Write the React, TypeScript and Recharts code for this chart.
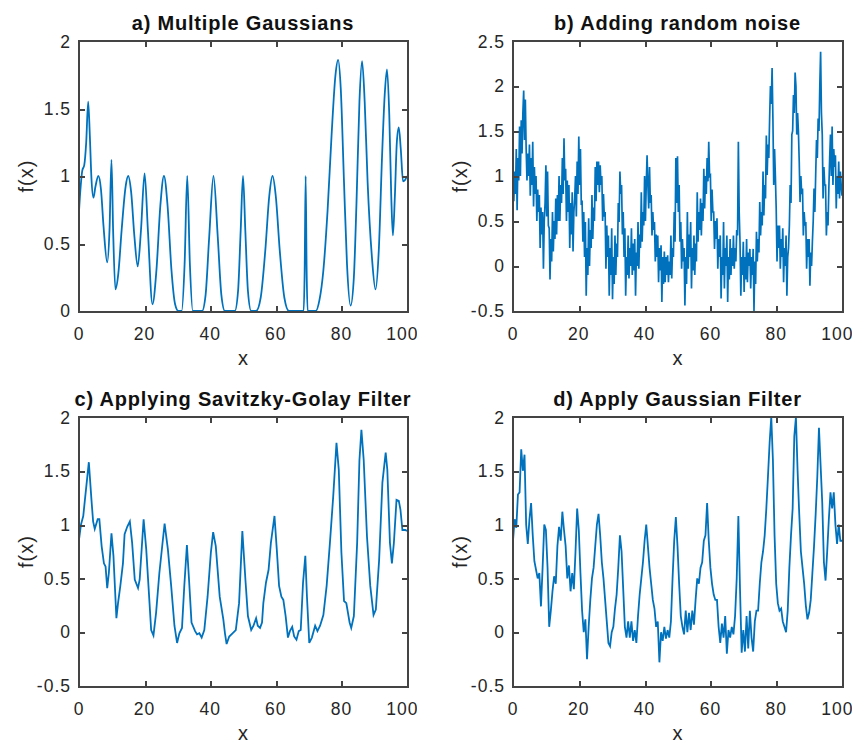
import React from "react";
import { LineChart, Line, XAxis, YAxis } from "recharts";

const X_TICKS = [0, 20, 40, 60, 80, 100];
const A_Y_TICKS = [0, 0.5, 1, 1.5, 2];
const B_Y_TICKS = [-0.5, 0, 0.5, 1, 1.5, 2, 2.5];
const CD_Y_TICKS = [-0.5, 0, 0.5, 1, 1.5, 2];

// a) sum of gaussians, read as [x, f(x)] at peaks, troughs and flanks
const gaussPoints: [number, number][] = [
  [0, 0.74], [0.5, 0.92], [1, 1.04], [1.6, 1.08], [2.2, 1.25], [2.8, 1.55], [3.3, 1.3],
  [3.8, 0.98], [4.4, 0.84], [5.0, 0.92], [5.9, 1.0], [6.7, 0.9], [7.5, 0.62], [8.6, 0.36],
  [9.3, 0.6], [9.9, 1.12], [10.4, 0.6], [11.1, 0.16], [12.0, 0.28], [13.0, 0.6], [14.2, 0.92],
  [15.0, 1.0], [15.9, 0.88], [16.9, 0.55], [17.9, 0.33], [18.9, 0.6], [20.0, 1.02], [21.0, 0.6],
  [22.4, 0.05], [23.6, 0.3], [24.8, 0.78], [25.9, 1.0], [27.0, 0.78], [28.2, 0.3], [29.3, 0.05],
  [30.3, 0], [31.3, 0], [32.2, 0.35], [33.0, 1.0], [33.8, 0.35], [34.7, 0], [37.5, 0],
  [38.6, 0.12], [39.7, 0.55], [41.0, 1.0], [42.3, 0.55], [43.4, 0.12], [44.5, 0], [47.5, 0],
  [48.5, 0.15], [49.3, 0.6], [50.0, 1.0], [50.7, 0.6], [51.5, 0.15], [52.5, 0], [54.0, 0],
  [55.4, 0.1], [56.8, 0.45], [58.0, 0.85], [59.0, 1.0], [60.0, 0.85], [61.2, 0.45], [62.6, 0.1],
  [64.0, 0], [68.5, 0], [68.8, 0.3], [69.1, 1.0], [69.4, 0.3], [69.7, 0], [72.2, 0],
  [73.3, 0.08], [74.5, 0.3], [75.8, 0.75], [77.0, 1.3], [78.2, 1.75], [79.0, 1.86], [79.8, 1.65],
  [80.8, 0.95], [81.7, 0.35], [82.8, 0.04], [83.8, 0.25], [84.6, 0.8], [85.5, 1.55], [86.3, 1.85],
  [87.1, 1.55], [88.0, 0.95], [89.3, 0.4], [90.4, 0.16], [91.4, 0.45], [92.4, 1.15], [93.2, 1.6],
  [93.9, 1.79], [94.6, 1.45], [95.2, 0.85], [95.7, 0.56], [96.3, 0.85], [96.9, 1.25], [97.5, 1.36],
  [98.1, 1.2], [98.8, 0.96], [99.4, 0.97], [100, 1.0],
];

// b) noisy signal, one value every 0.25 in x
const noisyStep = 0.25;
const noisyValues = [
  0.9, 0.72, 1.05, 0.8, 1.3, 0.62, 1.2, 0.95, 1.55, 1.0, 1.62, 1.25, 1.7, 1.95, 1.4, 1.85,
  1.3, 0.95, 1.25, 1.0, 1.35, 0.78, 1.2, 0.9, 1.38, 0.66, 1.1, 0.8, 1.0, 0.5, 0.85, 0.6,
  0.79, 0.2, 0.65, 0.35, 0.6, -0.03, 0.5, 0.7, 1.12, 0.55, 1.05, 0.45, 0.42, -0.15, 0.3, 0.05,
  0.6, 0.16, 0.5, 0.3, 0.75, 0.35, 0.79, 0.5, 1.0, 0.5, 0.9, 0.7, 1.2, 0.8, 1.42, 0.95,
  1.08, 0.5, 0.95, 0.6, 0.9, 0.2, 0.7, 0.35, 0.82, 0.16, 0.6, 0.75, 1.0, 0.55, 1.16, 0.8,
  1.44, 0.9, 1.3, 0.7, 0.71, 0.27, 0.6, 0.1, 0.49, -0.33, 0.2, -0.1, 0.53, 0.0, 0.4, 0.2,
  0.79, 0.3, 0.65, 0.5, 1.1, 0.72, 1.16, 0.9, 1.16, 0.82, 1.12, 0.9, 1.0, 0.5, 0.8, 0.55,
  0.6, -0.03, 0.45, 0.1, 0.34, -0.33, 0.2, -0.1, 0.42, -0.37, 0.1, -0.2, 0.34, -0.1, 0.25, 0.1,
  0.7, 0.49, 1.05, 0.8, 0.9, 0.35, 0.6, 0.1, 0.42, -0.33, 0.1, -0.1, 0.34, -0.14, 0.2, 0.0,
  0.42, -0.1, 0.25, -0.05, 0.3, -0.33, 0.15, 0.0, 0.49, -0.03, 0.35, 0.2, 0.82, 0.27, 0.6, 0.45,
  1.0, 0.5, 0.9, 1.23, 0.9, 0.64, 1.1, 0.7, 0.79, 0.34, 0.6, 0.4, 0.49, 0.05, 0.35, 0.1,
  0.34, -0.18, 0.2, -0.05, 0.23, -0.4, 0.1, -0.2, 0.16, -0.18, 0.1, -0.1, 0.12, -0.18, 0.05, -0.1,
  0.34, -0.14, 0.2, 0.1, 0.6, 0.27, 1.2, 0.7, 1.22, 0.6, 0.9, 0.27, 0.49, -0.03, 0.3, 0.05,
  0.2, -0.44, 0.1, -0.2, 0.6, -0.03, 0.35, 0.1, 0.49, -0.25, 0.2, -0.05, 0.34, -0.1, 0.25, 0.05,
  0.82, 0.27, 0.6, 0.4, 0.75, 0.34, 0.7, 0.5, 1.08, 0.64, 1.0, 0.8, 1.2, 0.94, 1.38, 1.0,
  1.01, 0.5, 0.85, 0.6, 0.6, 0.19, 0.5, 0.3, 0.53, -0.03, 0.3, 0.1, 0.34, -0.36, 0.1, -0.1,
  0.49, -0.25, 0.2, 0.0, 0.34, -0.4, 0.1, -0.15, 0.3, -0.1, 0.2, 0.0, 0.34, -0.03, 0.2, 0.05,
  0.4, 0.34, 1.38, 0.6, 0.27, -0.33, 0.1, -0.1, 0.27, -0.29, 0.1, -0.15, 0.3, -0.18, 0.15, 0.0,
  0.19, -0.25, 0.1, -0.1, 0.19, -0.5, 0.05, -0.2, 0.38, 0.05, 0.3, 0.15, 0.71, 0.34, 0.6, 0.45,
  1.05, 0.56, 0.9, 0.75, 1.45, 1.01, 1.35, 1.2, 1.64, 2.0, 1.8, 2.2, 1.64, 0.9, 1.3, 1.0,
  0.64, 0.05, 0.45, 0.2, 0.45, -0.03, 0.3, 0.1, 0.42, -0.18, 0.2, 0.0, 0.34, -0.33, 0.1, 0.2,
  0.45, 0.9, 0.7, 1.46, 1.5, 1.9, 1.7, 2.15, 2.0, 1.46, 1.7, 1.5, 1.16, 0.71, 1.0, 0.8,
  0.86, 0.34, 0.6, 0.45, 0.49, -0.03, 0.3, 0.1, 0.3, -0.22, 0.15, 0.0, 0.27, 0.5, 0.86, 0.6,
  1.01, 1.4, 1.2, 1.64, 1.5, 2.0, 2.38, 1.7, 1.46, 0.75, 1.1, 0.9, 0.9, 0.34, 0.6, 0.45,
  0.86, 1.2, 1.46, 1.0, 1.55, 0.9, 1.3, 1.1, 1.23, 0.64, 1.0, 0.8, 1.16, 0.75, 1.05, 0.9,
  0.78,
];

// c) Savitzky-Golay output, read as [x, f(x)]
const sgPoints: [number, number][] = [
  [0, 0.86], [0.6, 1.0], [1.3, 1.08], [1.8, 1.23], [3.0, 1.58], [3.8, 1.23], [4.3, 1.03],
  [4.8, 0.96], [5.7, 1.05], [6.2, 1.05], [6.9, 0.8], [7.6, 0.64], [8.1, 0.61], [8.6, 0.41],
  [9.1, 0.55], [9.9, 0.92], [10.5, 0.71], [11.4, 0.13], [11.9, 0.27], [12.6, 0.43], [13.4, 0.64],
  [13.9, 0.91], [14.7, 0.98], [15.5, 1.03], [16.2, 0.83], [17.0, 0.49], [18.0, 0.41], [18.5, 0.49],
  [19.7, 1.05], [20.5, 0.77], [21.5, 0.27], [22.0, 0.02], [22.7, -0.03], [23.5, 0.18], [24.5, 0.55],
  [26.1, 1.01], [27.1, 0.77], [28.1, 0.43], [29.1, 0.06], [29.9, -0.1], [30.6, -0.01], [31.4, 0.04],
  [32.1, 0.43], [32.9, 0.81], [33.6, 0.46], [34.3, 0.09], [35.4, 0.01], [36.0, -0.02], [36.7, -0.01],
  [37.4, -0.05], [38.2, 0.02], [39.2, 0.33], [40.2, 0.74], [40.9, 0.93], [41.7, 0.8], [42.9, 0.33],
  [44.0, 0.12], [44.5, -0.01], [45.0, -0.11], [45.8, -0.04], [46.8, -0.01], [47.8, 0.02], [48.8, 0.27],
  [49.8, 0.94], [50.8, 0.46], [51.5, 0.15], [52.5, 0.02], [53.2, 0.06], [54.0, 0.13], [54.5, 0.06],
  [55.2, 0.04], [55.8, 0.09], [56.2, 0.27], [57.0, 0.46], [57.8, 0.58], [58.5, 0.83], [59.6, 1.08],
  [60.3, 0.77], [61.0, 0.43], [61.7, 0.33], [62.3, 0.3], [63.0, 0.15], [63.7, -0.05], [64.3, 0.01],
  [65.0, 0.05], [65.6, -0.04], [66.3, -0.07], [67.0, 0.01], [67.6, 0.02], [68.3, 0.46], [69.0, 0.71],
  [69.5, 0.33], [70.2, -0.1], [71.0, -0.05], [72.0, 0.06], [72.7, 0.01], [73.5, 0.06], [74.5, 0.16],
  [75.5, 0.43], [76.5, 0.83], [77.5, 1.26], [78.5, 1.76], [79.2, 1.51], [80.0, 0.74], [80.8, 0.29],
  [81.5, 0.27], [82.5, 0.09], [83.0, 0.04], [83.8, 0.15], [84.8, 0.83], [85.5, 1.6], [86.1, 1.88],
  [86.8, 1.6], [87.8, 0.89], [88.8, 0.43], [89.8, 0.16], [90.5, 0.21], [91.5, 0.67], [92.5, 1.39],
  [93.5, 1.67], [94.0, 1.51], [94.8, 0.83], [95.4, 0.64], [96.0, 0.83], [96.8, 1.23], [97.5, 1.22],
  [98.0, 1.14], [98.6, 0.95], [99.5, 0.95], [100, 0.94],
];

// d) gaussian-filtered signal, one value every 0.5 in x
const gaussFiltStep = 0.5;
const gaussFiltValues = [
  0.85, 1.05, 0.97, 1.28, 1.3, 1.7, 1.5, 1.65, 1.0, 0.82, 1.05, 1.2, 0.9, 0.66, 0.58, 0.5,
  0.55, 0.24, 0.6, 1.0, 0.95, 0.6, 0.05, 0.2, 0.38, 0.52, 0.45, 0.8, 0.98, 0.85, 1.12, 0.95,
  0.8, 0.5, 0.62, 0.38, 0.55, 0.4, 0.75, 1.15, 0.95, 0.55, 0.2, 0.0, 0.12, -0.25, 0.05, 0.3,
  0.5, 0.6, 0.8, 1.0, 1.1, 0.9, 0.65, 0.5, 0.3, 0.1, -0.1, -0.13, 0.0, 0.05, 0.22, 0.35,
  0.6, 0.9, 0.75, 0.4, 0.05, -0.05, 0.1, -0.05, 0.1, -0.08, 0.02, -0.1, 0.15, 0.35, 0.5, 0.65,
  0.85, 1.0, 0.8, 0.6, 0.45, 0.3, 0.22, 0.05, 0.1, -0.28, 0.0, -0.08, 0.05, -0.06, 0.02, -0.05,
  0.1, 0.5, 0.85, 1.07, 0.8, 0.45, 0.15, 0.05, -0.02, 0.2, 0.0, 0.18, 0.02, 0.2, 0.07, 0.3,
  0.5, 0.45, 0.6, 0.65, 0.85, 0.9, 1.2, 0.85, 0.6, 0.45, 0.35, 0.3, 0.3, 0.05, -0.1, 0.08,
  -0.05, 0.15, -0.2, 0.02, -0.05, 0.05, -0.02, 0.15, 0.5, 1.08, 0.4, -0.19, 0.02, -0.18, 0.15, -0.15,
  0.2, -0.05, -0.18, 0.1, 0.2, 0.2, 0.45, 0.65, 0.75, 0.9, 1.15, 1.45, 1.76, 2.0, 1.6, 0.9,
  0.45, 0.27, 0.2, 0.22, 0.1, 0.05, 0.0, 0.2, 0.6, 0.9, 1.15, 1.82, 2.0, 1.5, 1.1, 0.75,
  0.6, 0.45, 0.25, 0.12, 0.18, 0.3, 0.55, 0.8, 1.1, 1.45, 1.9, 1.55, 1.2, 0.65, 0.48, 0.75,
  1.05, 1.3, 1.15, 1.3, 1.0, 0.82, 1.0, 0.85, 0.85,
];

const LINE_BLUE = "#0072BD";
const AXIS_GRAY = "#262626";
const BOX_GRAY = "#444";
const FONT = "'Liberation Sans', Arial, Helvetica, sans-serif";
const TICK_LEN = 5; // px, drawn inward like MATLAB

type Row = { x: number; y: number };

const fromPairs = (pts: [number, number][]): Row[] => pts.map(([x, y]) => ({ x, y }));
const fromSteps = (vals: number[], step: number): Row[] =>
  vals.map((y, i) => ({ x: +(i * step).toFixed(3), y }));

type PanelProps = {
  box: [number, number, number, number]; // plot area left, top, width, height
  title: string;
  data: Row[];
  yDomain: [number, number];
  yTicks: number[];
  curve: "linear" | "monotone";
  lineWidth: number;
};

const PAD_L = 60;
const PAD_T = 10;
const PAD_R = 10;
const PAD_B = 60;

function Panel({ box, title, data, yDomain, yTicks, curve, lineWidth }: PanelProps) {
  const [L, T, W, H] = box;
  const [y0, y1] = yDomain;
  const tickStyle = { fill: AXIS_GRAY, fontSize: 17.5, fontFamily: FONT, letterSpacing: 1 };

  // box + inward ticks, placed with the same linear mapping as the axes
  const px = (t: number) => Math.round(L + (t / 100) * W);
  const py = (t: number) => Math.round(T + ((y1 - t) / (y1 - y0)) * H);
  const innerX = X_TICKS.filter((t) => t > 0 && t < 100);
  const innerY = yTicks.filter((t) => t > y0 && t < y1);
  const mark = (key: string, left: number, top: number, w: number, h: number) => (
    <div key={key} style={{ position: "absolute", left, top, width: w, height: h, background: BOX_GRAY }} />
  );

  return (
    <>
      <div style={{ position: "absolute", left: L - PAD_L, top: T - PAD_T }}>
        <LineChart
          width={W + PAD_L + PAD_R}
          height={H + PAD_T + PAD_B}
          data={data}
          margin={{ top: PAD_T, right: PAD_R, bottom: 0, left: 0 }}
        >
          <XAxis
            type="number"
            dataKey="x"
            domain={[0, 100]}
            ticks={X_TICKS}
            height={PAD_B}
            tickSize={-4}
            tickMargin={21}
            tick={tickStyle}
            tickLine={false}
            axisLine={false}
          />
          <YAxis
            type="number"
            domain={yDomain}
            ticks={yTicks}
            width={PAD_L}
            tickSize={-4}
            tickMargin={12}
            tick={tickStyle}
            tickLine={false}
            axisLine={false}
          />
          <Line
            type={curve}
            dataKey="y"
            stroke={LINE_BLUE}
            strokeWidth={lineWidth}
            dot={false}
            activeDot={false}
            isAnimationActive={false}
          />
        </LineChart>
      </div>
      <div
        style={{
          position: "absolute",
          left: L - 1,
          top: T - 1,
          width: W + 3,
          height: H + 3,
          border: `2px solid ${BOX_GRAY}`,
          boxSizing: "border-box",
          pointerEvents: "none",
        }}
      />
      {innerX.map((t) => mark(`b${t}`, px(t), T + H - TICK_LEN, 2, TICK_LEN))}
      {innerX.map((t) => mark(`t${t}`, px(t), T + 1, 2, TICK_LEN))}
      {innerY.map((t) => mark(`l${t}`, L + 1, py(t), TICK_LEN, 2))}
      {innerY.map((t) => mark(`r${t}`, L + W - TICK_LEN, py(t), TICK_LEN, 2))}
      <svg
        width={W + 120}
        height={H + 110}
        style={{ position: "absolute", left: L - 80, top: T - 40, overflow: "visible", pointerEvents: "none" }}
      >
        <text
          x={80 + W / 2}
          y={40 - 11}
          textAnchor="middle"
          fontFamily={FONT}
          fontWeight="bold"
          fontSize={20}
          letterSpacing={0.8}
          fill="#111"
        >
          {title}
        </text>
        <text
          x={80 + W / 2}
          y={40 + H + 54}
          textAnchor="middle"
          fontFamily={FONT}
          fontSize={20}
          fill={AXIS_GRAY}
        >
          x
        </text>
        <text
          x={80 - 46}
          y={40 + H / 2}
          textAnchor="middle"
          fontFamily={FONT}
          fontSize={20}
          letterSpacing={1}
          fill={AXIS_GRAY}
          transform={`rotate(-90 ${80 - 46} ${40 + H / 2})`}
        >
          f(x)
        </text>
      </svg>
    </>
  );
}

export default function App() {
  return (
    <div
      style={{
        position: "absolute",
        left: 0,
        top: 0,
        width: 861,
        height: 745,
        background: "#fff",
        overflow: "hidden",
      }}
    >
      <Panel
        box={[79, 41, 328, 270]}
        title="a) Multiple Gaussians"
        data={fromPairs(gaussPoints)}
        yDomain={[0, 2]}
        yTicks={A_Y_TICKS}
        curve="monotone"
        lineWidth={1.8}
      />
      <Panel
        box={[513, 41, 329, 270]}
        title="b) Adding random noise"
        data={fromSteps(noisyValues, noisyStep)}
        yDomain={[-0.5, 2.5]}
        yTicks={B_Y_TICKS}
        curve="linear"
        lineWidth={1.7}
      />
      <Panel
        box={[79, 417, 328, 269]}
        title="c) Applying Savitzky-Golay Filter"
        data={fromPairs(sgPoints)}
        yDomain={[-0.5, 2]}
        yTicks={CD_Y_TICKS}
        curve="linear"
        lineWidth={1.8}
      />
      <Panel
        box={[513, 417, 329, 269]}
        title="d) Apply Gaussian Filter"
        data={fromSteps(gaussFiltValues, gaussFiltStep)}
        yDomain={[-0.5, 2]}
        yTicks={CD_Y_TICKS}
        curve="linear"
        lineWidth={1.8}
      />
    </div>
  );
}
